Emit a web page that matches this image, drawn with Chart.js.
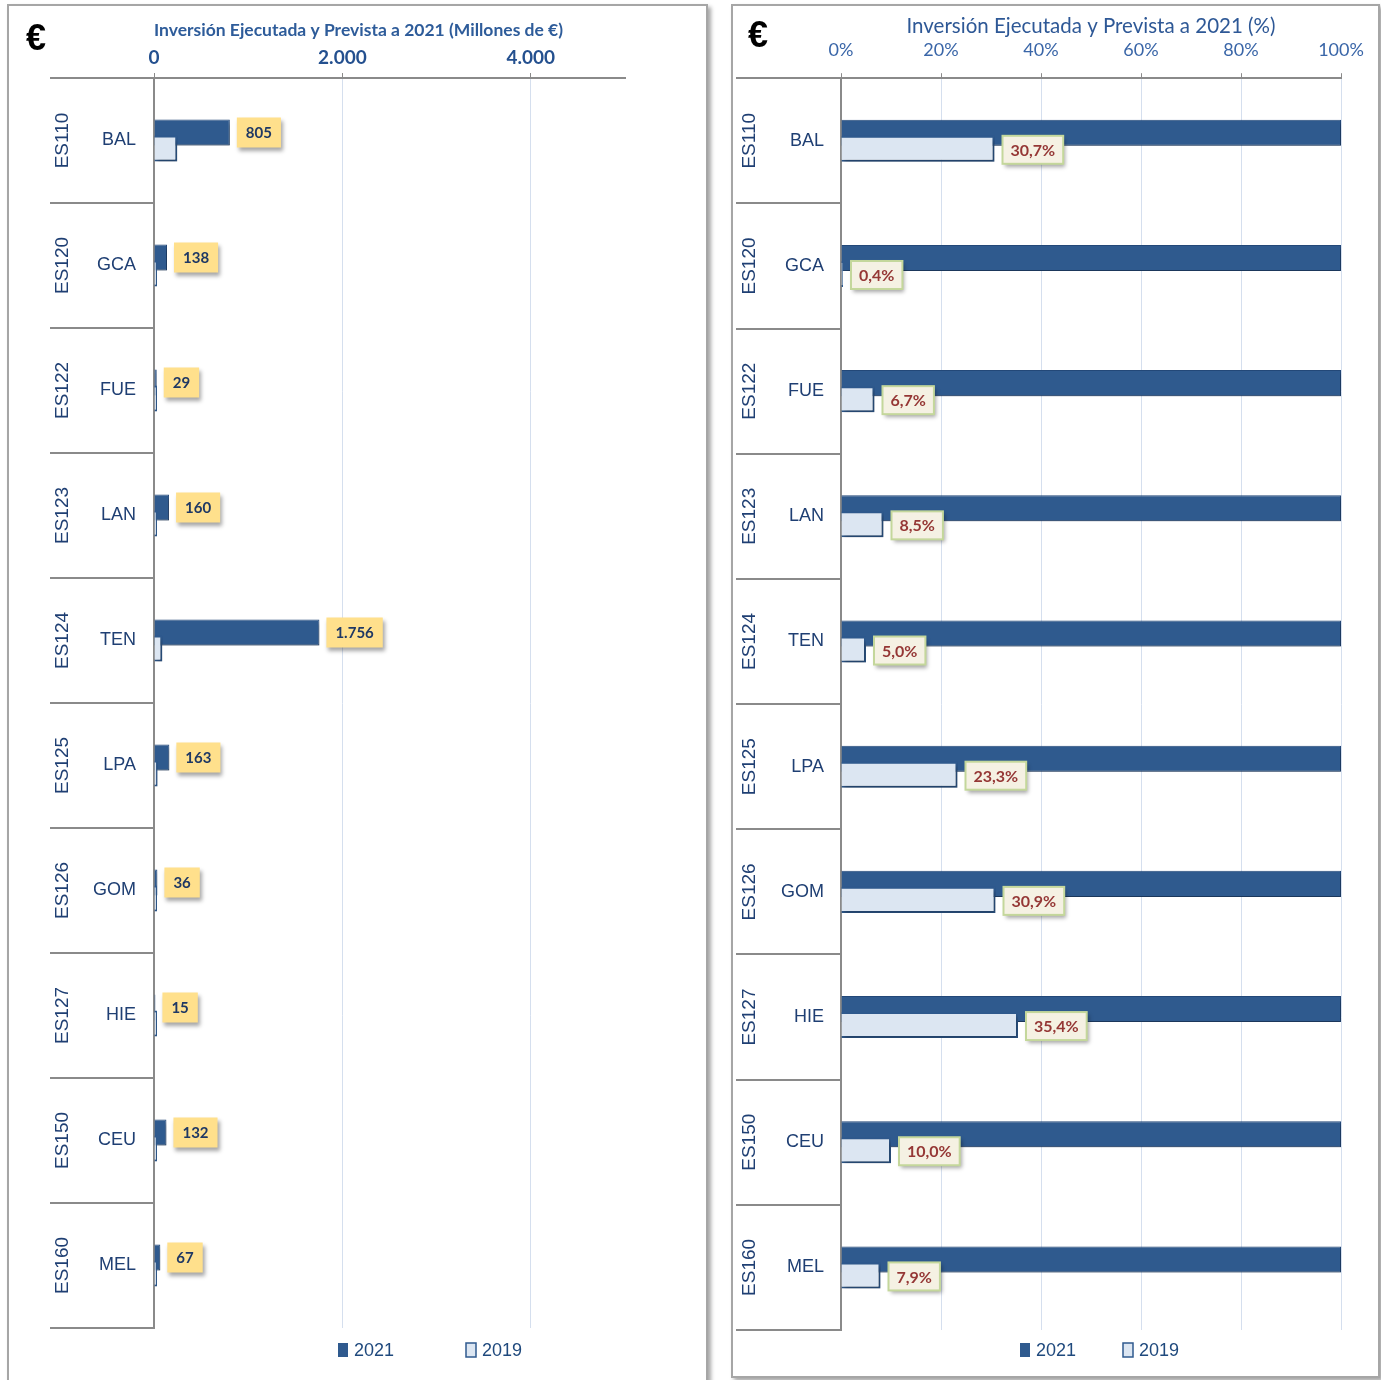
<!DOCTYPE html>
<html lang="es">
<head>
<meta charset="utf-8">
<title>Inversión Ejecutada y Prevista a 2021</title>
<script src="https://cdn.jsdelivr.net/npm/chart.js@4.4.1/dist/chart.umd.min.js"></script>
<style>
  body { margin: 0; background: #fff; width: 1381px; height: 1380px; overflow: hidden; position: relative; }
  .panel { position: absolute; border: 2px solid #a6a6a6; box-shadow: 3px 3px 4px rgba(0,0,0,0.35); background: #fff; }
  #panelIzq { left: 7px; top: 4px; width: 697px; height: 1400px; }
  #panelDer { left: 731px; top: 4px; width: 645px; height: 1370px; }
  canvas { position: absolute; }
  #invIzq { left: 8px; top: 6px; }
  #invDer { left: 727px; top: 6px; }
  .euro { position: absolute; font: bold 36px "Liberation Sans", Arial, sans-serif; line-height: 36px; color: #000; }
</style>
</head>
<body>
<div class="panel" id="panelIzq"></div>
<div class="panel" id="panelDer"></div>
<canvas id="invIzq" width="698" height="1374"></canvas>
<canvas id="invDer" width="652" height="1371"></canvas>
<span class="euro" style="left:26px; top:20px;">€</span>
<span class="euro" style="left:748px; top:17px;">€</span>

<script>
// datos
const codigos = ['ES110', 'ES120', 'ES122', 'ES123', 'ES124', 'ES125', 'ES126', 'ES127', 'ES150', 'ES160'];
const puertos = ['BAL', 'GCA', 'FUE', 'LAN', 'TEN', 'LPA', 'GOM', 'HIE', 'CEU', 'MEL'];
const series = ['2021', '2019'];

// millones de euros
const inv2021 = [805, 138, 29, 160, 1756, 163, 36, 15, 132, 67];
const inv2019 = [247, 1, 2, 14, 88, 38, 11, 5, 13, 5];

// porcentaje
const pct2021 = [100, 100, 100, 100, 100, 100, 100, 100, 100, 100];
const pct2019 = [30.7, 0.4, 6.7, 8.5, 5.0, 23.3, 30.9, 35.4, 10.0, 7.9];

const ticksMiles = [0, 2000, 4000];
const ticksPct = [0, 20, 40, 60, 80, 100];

const azul = '#2F5A8E';
const azulBorde = '#24497A';
const claro = '#DCE6F2';
const gris = '#8A8A8A';
const textoAzul = '#1F3F73';

function miles(v) {
    return String(v).replace(/\B(?=(\d{3})+(?!\d))/g, '.');
}
function pct(v) {
    return v.toFixed(1).replace('.', ',') + '%';
}

// 2019 encima de 2021, sombras, etiquetas y leyenda
const extras = {
    id: 'extras',
    beforeDatasetsDraw(chart) {
        const ctx = chart.ctx;
        ctx.save();
        ctx.shadowColor = 'rgba(0,0,0,0.28)';
        ctx.shadowBlur = 4;
        ctx.shadowOffsetX = 2;
        ctx.shadowOffsetY = 3;
    },
    beforeDatasetDraw(chart, args) {
        if (args.index === 1) return false;
    },
    afterDatasetsDraw(chart, args, o) {
        const ctx = chart.ctx;
        chart.getDatasetMeta(1).controller.draw();

        // etiquetas de valor
        const meta = chart.getDatasetMeta(o.serie);
        const valores = chart.data.datasets[o.serie].data;
        ctx.font = o.fuente;
        meta.data.forEach((bar, i) => {
            const txt = o.formato === 'pct' ? pct(valores[i]) : miles(valores[i]);
            const w = ctx.measureText(txt).width + o.padX * 2;
            const x = bar.x + o.sep;
            const y = bar.y - o.alto / 2 + o.dy;
            ctx.shadowColor = 'rgba(0,0,0,0.35)';
            ctx.fillStyle = o.fondo;
            ctx.fillRect(x, y, w, o.alto);
            ctx.shadowColor = 'rgba(0,0,0,0)';
            if (o.borde) {
                ctx.strokeStyle = o.borde;
                ctx.lineWidth = 2;
                ctx.strokeRect(x, y, w, o.alto);
            }
            ctx.fillStyle = o.color;
            ctx.textAlign = 'center';
            ctx.textBaseline = 'middle';
            ctx.fillText(txt, x + w / 2, y + o.alto / 2 + 1);
        });
        ctx.restore();

        // leyenda
        ctx.save();
        ctx.font = '18px "Liberation Sans", Arial, sans-serif';
        ctx.textBaseline = 'middle';
        ctx.textAlign = 'left';
        chart.data.datasets.forEach((ds, i) => {
            const x = o.leyendaX[i];
            const y = o.leyendaY;
            ctx.fillStyle = ds.backgroundColor;
            ctx.fillRect(x, y - 7, 10, 14);
            if (i === 1) {
                ctx.strokeStyle = azul;
                ctx.lineWidth = 1.5;
                ctx.strokeRect(x, y - 7, 10, 14);
            }
            ctx.fillStyle = '#1F497D';
            ctx.fillText(ds.label, x + 16, y + 1);
        });
        ctx.restore();
    }
};

function crear(id, p) {
    new Chart(document.getElementById(id), {
        type: 'bar',
        data: {
            labels: puertos,
            datasets: [
                {
                    label: series[0], data: p.d21,
                    backgroundColor: azul, borderColor: azulBorde, borderWidth: 1,
                    categoryPercentage: 0.256, barPercentage: 1.625
                },
                {
                    label: series[1], data: p.d19,
                    backgroundColor: claro, borderColor: azul, borderWidth: 2,
                    categoryPercentage: 0.256, barPercentage: 1.625, minBarLength: p.minBar
                }
            ]
        },
        options: {
            indexAxis: 'y',
            responsive: false,
            animation: false,
            events: [],
            layout: { padding: p.padding },
            scales: {
                x: {
                    type: 'linear', position: 'top', min: 0, max: p.max,
                    afterBuildTicks: s => { s.ticks = p.ticks.map(v => ({ value: v })); },
                    ticks: { callback: p.fmt, color: p.tickColor, font: p.tickFont, padding: p.tickPad },
                    grid: {
                        color: c => (c.tick && c.tick.value === 0) ? 'rgba(0,0,0,0)' : '#D5DFEE',
                        tickColor: gris, tickLength: 5, lineWidth: 1
                    },
                    border: { color: gris, width: 2 },
                    title: {
                        display: true, text: p.titulo, color: p.tituloColor, font: p.tituloFont,
                        align: p.tituloAlign, padding: { top: 0, bottom: p.tituloPad }
                    }
                },
                y: {
                    type: 'category', position: 'left', offset: true, weight: 0,
                    afterFit: s => { s.width = 60; },
                    ticks: {
                        color: textoAzul, padding: p.ypad, autoSkip: false,
                        font: { family: '"Liberation Sans", Arial, sans-serif', size: 18 }
                    },
                    grid: { offset: true, drawOnChartArea: false, tickLength: p.sepLargo, color: gris, lineWidth: 2 },
                    border: { color: gris, width: 2 }
                },
                y2: {
                    type: 'category', labels: codigos, position: 'left', offset: true, weight: 1,
                    afterFit: s => { s.width = p.y2ancho; },
                    ticks: {
                        color: textoAzul, padding: 3, minRotation: 90, maxRotation: 90,
                        crossAlign: 'center', autoSkip: false,
                        font: { family: '"Liberation Sans", Arial, sans-serif', size: 19 }
                    },
                    grid: { display: false, drawTicks: false },
                    border: { display: false }
                }
            },
            plugins: {
                legend: { display: false },
                tooltip: { enabled: false },
                extras: p.extras
            }
        },
        plugins: [extras]
    });
}

crear('invIzq', {
    d21: inv2021, d19: inv2019, minBar: 3,
    max: 5000, ticks: ticksMiles, fmt: v => miles(v),
    tickColor: '#24508F', tickFont: { family: 'Lato', size: 19, weight: 'bold' }, tickPad: 3.6,
    titulo: 'Inversión Ejecutada y Prevista a 2021 (Millones de €)', tituloColor: '#2E5C9A',
    tituloFont: { family: 'Lato', size: 17.5, weight: 'bold' }, tituloPad: 2, tituloAlign: 'start',
    padding: { top: 14, right: 81, bottom: 52, left: 0 },
    ypad: -86, sepLargo: 104, y2ancho: 86,
    extras: {
        serie: 0, formato: 'miles', fuente: 'bold 15px Lato', fondo: '#FFE08C', borde: null,
        color: '#1F3864', padX: 9, alto: 30, sep: 7, dy: 0,
        leyendaX: [330, 458], leyendaY: 1344
    }
});

crear('invDer', {
    d21: pct2021, d19: pct2019, minBar: 0,
    max: 100, ticks: ticksPct, fmt: v => v + '%',
    tickColor: '#3A66A8', tickFont: { family: 'Lato', size: 18 }, tickPad: 12.2,
    titulo: 'Inversión Ejecutada y Prevista a 2021 (%)', tituloColor: '#2E5896',
    tituloFont: { family: 'Lato', size: 20.5 }, tituloPad: -11.4, tituloAlign: 'center',
    padding: { top: 8, right: 38, bottom: 47, left: 0 },
    ypad: -88, sepLargo: 105, y2ancho: 54,
    extras: {
        serie: 1, formato: 'pct', fuente: 'bold 16px Lato', fondo: '#F5F1E3', borde: '#C4D79B',
        color: '#953735', padX: 8, alto: 28, sep: 8, dy: 1,
        leyendaX: [293, 396], leyendaY: 1344
    }
});
</script>
</body>
</html>
